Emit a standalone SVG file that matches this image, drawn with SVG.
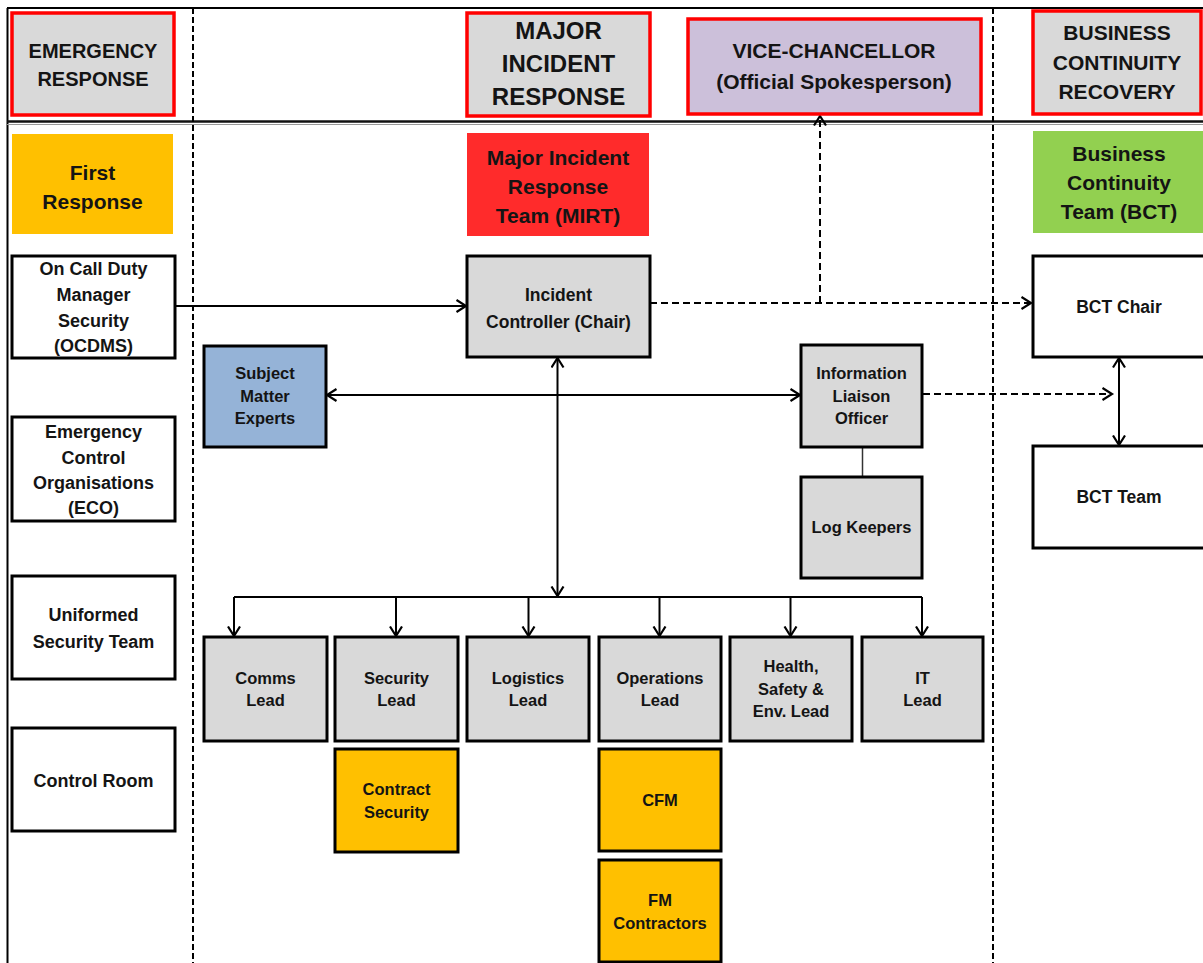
<svg xmlns="http://www.w3.org/2000/svg" width="1203" height="963" viewBox="0 0 1203 963">
<defs>
<style>
text{font-family:"Liberation Sans",Arial,sans-serif;font-weight:bold;fill:#141414;text-anchor:middle}
.hdr{fill:#d9d9d9;stroke:#ff0000;stroke-width:3.5}
.grey{fill:#d9d9d9;stroke:#000;stroke-width:3}
.white{fill:#fff;stroke:#000;stroke-width:3}
.orange{fill:#ffc000;stroke:#000;stroke-width:3}
.f18{font-size:18px}
.f17{font-size:17.5px}
.f16{font-size:16.5px}
.f21{font-size:21px}
.f20{font-size:20px}
.f24{font-size:24px}
.conn{fill:none;stroke:#000;stroke-width:2}
.dash{fill:none;stroke:#000;stroke-width:2;stroke-dasharray:7 4}
.frame{fill:none;stroke:#000;stroke-width:2}
.lane{fill:none;stroke:#000;stroke-width:2;stroke-dasharray:6 3}
</style>
<marker id="arr" markerUnits="userSpaceOnUse" markerWidth="16" markerHeight="16" refX="10.5" refY="7" orient="auto-start-reverse">
<path d="M1,1 L10.5,7 L1,13" fill="none" stroke="#000" stroke-width="2.2"/>
</marker>
</defs>
<rect x="0" y="0" width="1203" height="963" fill="#fff"/>

<g id="frame">
<line class="frame" x1="7" y1="8" x2="1203" y2="8"/>
<line class="frame" x1="7.5" y1="8" x2="7.5" y2="963"/>
<line x1="7" y1="121.5" x2="1203" y2="121.5" stroke="#111" stroke-width="2.5"/>
<line x1="7" y1="124.5" x2="1203" y2="124.5" stroke="#999" stroke-width="1"/>
<line class="lane" x1="193" y1="8" x2="193" y2="963"/>
<line class="lane" x1="993" y1="8" x2="993" y2="963"/>
</g>

<g id="connectors">
<line class="conn" x1="175" y1="306" x2="466" y2="306" marker-end="url(#arr)"/>
<line class="dash" x1="650" y1="303" x2="1031" y2="303" marker-end="url(#arr)"/>
<line class="dash" x1="820" y1="303" x2="820" y2="116" marker-end="url(#arr)"/>
<line class="conn" x1="327" y1="395" x2="800" y2="395" marker-start="url(#arr)" marker-end="url(#arr)"/>
<line class="conn" x1="557.5" y1="358" x2="557.5" y2="596" marker-start="url(#arr)" marker-end="url(#arr)"/>
<line class="conn" x1="234" y1="597" x2="922" y2="597"/>
<line class="conn" x1="234" y1="597" x2="234" y2="636" marker-end="url(#arr)"/>
<line class="conn" x1="396" y1="597" x2="396" y2="636" marker-end="url(#arr)"/>
<line class="conn" x1="528.5" y1="597" x2="528.5" y2="636" marker-end="url(#arr)"/>
<line class="conn" x1="659.5" y1="597" x2="659.5" y2="636" marker-end="url(#arr)"/>
<line class="conn" x1="790.5" y1="597" x2="790.5" y2="636" marker-end="url(#arr)"/>
<line class="conn" x1="922" y1="597" x2="922" y2="636" marker-end="url(#arr)"/>
<line class="dash" x1="923" y1="394" x2="1112" y2="394" marker-end="url(#arr)"/>
<line class="conn" x1="1119" y1="358" x2="1119" y2="445" marker-start="url(#arr)" marker-end="url(#arr)"/>
<line x1="862.5" y1="447" x2="862.5" y2="477" stroke="#333" stroke-width="1.5"/>
</g>

<g id="hdr-emergency">
<rect class="hdr" x="12" y="13" width="162" height="102"/>
<text class="f20" x="93" y="57.5">EMERGENCY</text>
<text class="f20" x="93" y="86">RESPONSE</text>
</g>
<g id="hdr-major">
<rect class="hdr" x="467" y="13" width="183" height="103"/>
<text class="f24" x="558.5" y="38.6">MAJOR</text>
<text class="f24" x="558.5" y="71.6">INCIDENT</text>
<text class="f24" x="558.5" y="104.6">RESPONSE</text>
</g>
<g id="vice-chancellor">
<rect x="688" y="19" width="293" height="95" fill="#ccc0da" stroke="#ff0000" stroke-width="3.5"/>
<text class="f21" x="834" y="57.5">VICE-CHANCELLOR</text>
<text class="f21" x="834" y="88.5">(Official Spokesperson)</text>
</g>
<g id="hdr-business">
<rect class="hdr" x="1033" y="11" width="168" height="103"/>
<text class="f21" x="1117" y="39.5">BUSINESS</text>
<text class="f21" x="1117" y="69.5">CONTINUITY</text>
<text class="f21" x="1117" y="98.5">RECOVERY</text>
</g>

<g id="first-response">
<rect x="12" y="134" width="161" height="100" fill="#ffc000"/>
<text class="f21" x="92.5" y="179.5">First</text>
<text class="f21" x="92.5" y="208.5">Response</text>
</g>
<g id="mirt">
<rect x="467" y="133" width="182" height="103" fill="#ff2b2b"/>
<text class="f21" x="558" y="165">Major Incident</text>
<text class="f21" x="558" y="193.5">Response</text>
<text class="f21" x="558" y="222.5">Team (MIRT)</text>
</g>
<g id="bct">
<rect x="1033" y="131" width="175" height="102" fill="#92d050"/>
<text class="f21" x="1119" y="161">Business</text>
<text class="f21" x="1119" y="190">Continuity</text>
<text class="f21" x="1119" y="218.5">Team (BCT)</text>
</g>

<g id="ocdms">
<rect class="white" x="12" y="256" width="163" height="102"/>
<text class="f18" x="93.5" y="274.5">On Call Duty</text>
<text class="f18" x="93.5" y="301">Manager</text>
<text class="f18" x="93.5" y="326.5">Security</text>
<text class="f18" x="93.5" y="351.5">(OCDMS)</text>
</g>
<g id="eco">
<rect class="white" x="12" y="417" width="163" height="104"/>
<text class="f18" x="93.5" y="438">Emergency</text>
<text class="f18" x="93.5" y="463.5">Control</text>
<text class="f18" x="93.5" y="489">Organisations</text>
<text class="f18" x="93.5" y="513.5">(ECO)</text>
</g>
<g id="uniformed">
<rect class="white" x="12" y="576" width="163" height="103"/>
<text class="f18" x="93.5" y="621">Uniformed</text>
<text class="f18" x="93.5" y="648">Security Team</text>
</g>
<g id="control-room">
<rect class="white" x="12" y="728" width="163" height="103"/>
<text class="f18" x="93.5" y="787">Control Room</text>
</g>

<g id="incident-controller">
<rect class="grey" x="467" y="256" width="183" height="101"/>
<text class="f17" x="558.5" y="301">Incident</text>
<text class="f17" x="558.5" y="328">Controller (Chair)</text>
</g>
<g id="sme">
<rect x="204" y="346" width="122" height="101" fill="#95b3d7" stroke="#000" stroke-width="3"/>
<text class="f16" x="265" y="379">Subject</text>
<text class="f16" x="265" y="401.5">Matter</text>
<text class="f16" x="265" y="424">Experts</text>
</g>
<g id="ilo">
<rect class="grey" x="801" y="345" width="121" height="102"/>
<text class="f16" x="861.5" y="379">Information</text>
<text class="f16" x="861.5" y="401.5">Liaison</text>
<text class="f16" x="861.5" y="424">Officer</text>
</g>
<g id="log-keepers">
<rect class="grey" x="801" y="477" width="121" height="101"/>
<text class="f16" x="861.5" y="532.5">Log Keepers</text>
</g>
<g id="bct-chair">
<rect class="white" x="1033" y="256" width="175" height="101"/>
<text class="f17" x="1119" y="313">BCT Chair</text>
</g>
<g id="bct-team">
<rect class="white" x="1033" y="446" width="175" height="102"/>
<text class="f17" x="1119" y="502.5">BCT Team</text>
</g>

<g id="comms-lead">
<rect class="grey" x="204" y="637" width="123" height="104"/>
<text class="f16" x="265.5" y="684">Comms</text>
<text class="f16" x="265.5" y="706">Lead</text>
</g>
<g id="security-lead">
<rect class="grey" x="335" y="637" width="123" height="104"/>
<text class="f16" x="396.5" y="684">Security</text>
<text class="f16" x="396.5" y="706">Lead</text>
</g>
<g id="logistics-lead">
<rect class="grey" x="467" y="637" width="122" height="104"/>
<text class="f16" x="528" y="684">Logistics</text>
<text class="f16" x="528" y="706">Lead</text>
</g>
<g id="operations-lead">
<rect class="grey" x="599" y="637" width="122" height="104"/>
<text class="f16" x="660" y="684">Operations</text>
<text class="f16" x="660" y="706">Lead</text>
</g>
<g id="hse-lead">
<rect class="grey" x="730" y="637" width="122" height="104"/>
<text class="f16" x="791" y="672">Health,</text>
<text class="f16" x="791" y="694.5">Safety &amp;</text>
<text class="f16" x="791" y="716.5">Env. Lead</text>
</g>
<g id="it-lead">
<rect class="grey" x="862" y="637" width="121" height="104"/>
<text class="f16" x="922.5" y="683.5">IT</text>
<text class="f16" x="922.5" y="706">Lead</text>
</g>
<g id="contract-security">
<rect class="orange" x="335" y="749" width="123" height="103"/>
<text class="f16" x="396.5" y="795">Contract</text>
<text class="f16" x="396.5" y="817.5">Security</text>
</g>
<g id="cfm">
<rect class="orange" x="599" y="749" width="122" height="102"/>
<text class="f16" x="660" y="805.5">CFM</text>
</g>
<g id="fm-contractors">
<rect class="orange" x="599" y="860" width="122" height="102"/>
<text class="f16" x="660" y="906">FM</text>
<text class="f16" x="660" y="928.5">Contractors</text>
</g>
</svg>
